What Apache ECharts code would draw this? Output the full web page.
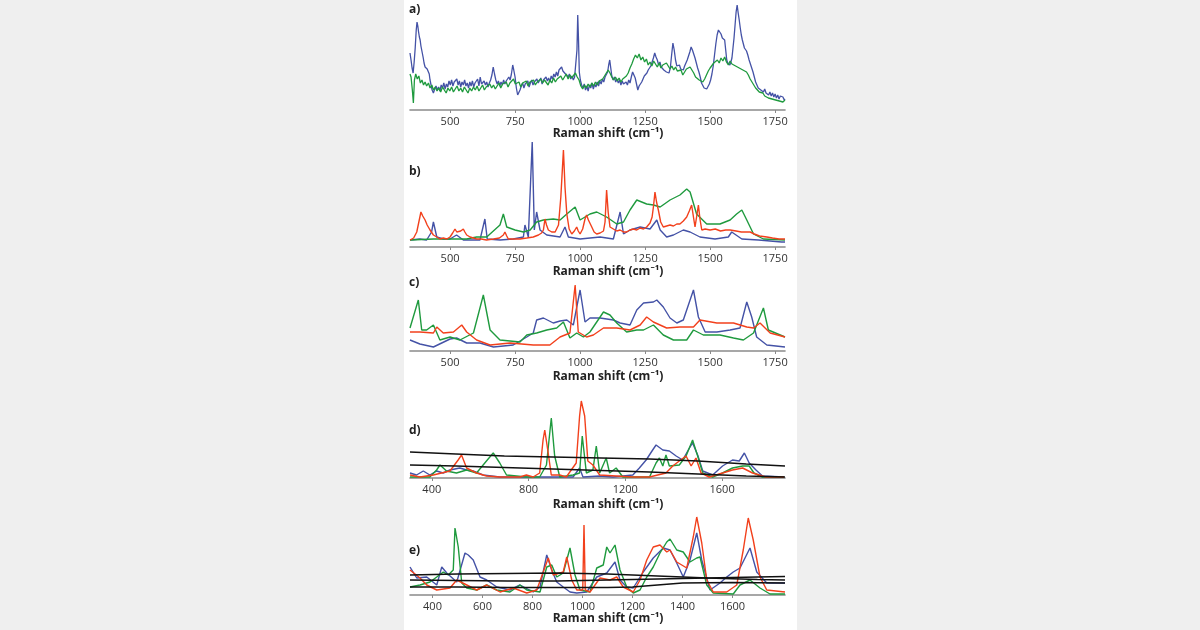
<!DOCTYPE html>
<html>
<head>
<meta charset="utf-8">
<script src="https://cdn.jsdelivr.net/npm/echarts@6/dist/echarts.min.js"></script>
<style>
html,body{margin:0;padding:0;background:#efefef;}
#c{width:1200px;height:630px;}
</style>
</head>
<body>
<div id="c"></div>
<script>
// ---------- Data (x: Raman shift in cm-1, y: intensity a.u.) ----------
const panelLabels = ['a)', 'b)', 'c)', 'd)', 'e)'];
const ticksABC = [500, 750, 1000, 1250, 1500, 1750];
const ticksD = [400, 800, 1200, 1600];
const ticksE = [400, 600, 800, 1000, 1200, 1400, 1600];
const axisTitle = 'Raman shift (cm\u207B\u00B9)';

// Panel a
const aBlue = [[346,57],[350,50],[354,42],[358,37],[362,48],[366,62],[370,80],[373,88],[376,84],[379,78],[382,73],[385,70],[388,64],[391,60],[394,56],[397,52],[400,47],[404,43],[408,45],[412,41],[417,40],[420,36],[423,30],[427,25],[431,20],[436,17],[441,21],[446,24],[451,20],[456,23],[461,19],[466,25],[471,22],[476,27],[481,21],[486,26],[491,23],[496,29],[501,25],[506,30],[511,24],[516,28],[521,26],[526,31],[531,25],[536,29],[541,23],[546,28],[551,25],[556,30],[561,24],[566,27],[571,22],[576,28],[581,24],[586,29],[591,23],[596,27],[601,25],[606,31],[611,24],[616,33],[621,26],[626,24],[631,29],[636,25],[641,28],[646,23],[651,27],[656,30],[661,35],[666,43],[671,36],[676,30],[681,26],[686,29],[691,24],[696,28],[701,25],[706,30],[711,26],[716,29],[721,27],[726,33],[731,30],[736,36],[741,45],[745,40],[750,33],[755,22],[760,15],[764,13],[769,20],[774,24],[779,27],[784,22],[789,26],[794,24],[799,29],[804,23],[809,27],[814,30],[819,25],[824,28],[829,26],[834,31],[839,27],[844,29],[849,32],[854,26],[859,30],[864,28],[869,33],[874,29],[879,32],[884,28],[889,34],[894,31],[899,36],[904,33],[909,38],[914,34],[919,40],[924,38],[929,43],[934,39],[939,41],[944,36],[949,38],[954,33],[959,36],[964,31],[969,34],[974,30],[979,33],[984,35],[988,60],[991,95],[994,70],[997,38],[1001,30],[1006,25],[1011,22],[1016,26],[1021,20],[1026,24],[1031,19],[1036,25],[1041,22],[1046,27],[1051,21],[1056,26],[1061,23],[1066,28],[1071,24],[1076,29],[1081,26],[1086,31],[1091,28],[1096,33],[1101,31],[1106,38],[1110,45],[1114,50],[1118,42],[1122,34],[1127,30],[1132,33],[1137,28],[1142,31],[1147,27],[1152,30],[1157,25],[1162,29],[1167,26],[1172,24],[1177,28],[1182,25],[1187,30],[1192,27],[1197,33],[1202,38],[1207,40],[1212,32],[1217,26],[1222,20],[1227,24],[1232,22],[1237,28],[1242,30],[1247,34],[1252,32],[1257,37],[1262,40],[1267,38],[1272,44],[1277,48],[1282,52],[1287,57],[1292,53],[1297,50],[1302,45],[1307,48],[1312,43],[1317,45],[1322,40],[1327,42],[1332,38],[1337,40],[1342,37],[1347,42],[1352,55],[1357,67],[1362,60],[1367,50],[1372,44],[1377,42],[1382,45],[1387,41],[1392,43],[1397,40],[1402,44],[1407,47],[1412,50],[1417,54],[1422,58],[1427,63],[1432,60],[1437,56],[1442,52],[1447,47],[1452,42],[1457,38],[1462,33],[1467,27],[1472,25],[1477,22],[1482,24],[1487,21],[1492,23],[1497,26],[1502,30],[1507,36],[1512,44],[1517,55],[1522,66],[1527,75],[1532,80],[1537,82],[1542,76],[1547,72],[1551,74],[1556,70],[1560,60],[1564,50],[1568,47],[1572,49],[1576,45],[1580,48],[1584,52],[1588,62],[1592,72],[1596,85],[1600,98],[1604,105],[1608,97],[1612,90],[1616,82],[1620,75],[1624,70],[1628,66],[1632,62],[1636,64],[1640,59],[1645,55],[1650,50],[1655,46],[1660,42],[1665,38],[1670,33],[1675,28],[1680,25],[1685,22],[1690,24],[1695,20],[1700,22],[1705,18],[1710,21],[1715,17],[1720,19],[1725,15],[1730,18],[1735,14],[1740,17],[1745,13],[1750,16],[1755,12],[1760,15],[1765,11],[1770,14],[1775,12],[1780,13],[1785,10],[1788,11]];
const aGreen = [[346,36],[350,33],[355,20],[359,7],[363,30],[368,36],[374,31],[380,34],[386,27],[392,30],[398,25],[404,28],[410,24],[417,27],[423,22],[430,25],[436,20],[443,23],[450,19],[457,22],[464,18],[471,23],[478,20],[485,17],[492,22],[499,19],[506,23],[513,18],[520,21],[527,24],[534,19],[541,22],[548,18],[555,23],[562,20],[569,17],[576,22],[583,19],[590,23],[597,20],[604,24],[611,19],[618,22],[625,25],[632,20],[639,23],[646,21],[653,26],[660,22],[667,25],[674,21],[681,24],[688,27],[695,22],[702,26],[709,24],[716,28],[723,23],[730,27],[737,25],[744,31],[751,26],[758,24],[765,28],[772,23],[779,27],[786,25],[793,29],[800,24],[807,28],[814,26],[821,30],[828,25],[835,28],[842,26],[849,31],[856,27],[863,30],[870,28],[877,25],[884,30],[891,27],[898,32],[905,28],[912,31],[919,29],[926,34],[933,30],[940,33],[947,36],[954,31],[961,35],[968,32],[975,34],[982,37],[989,33],[996,30],[1003,24],[1010,21],[1017,25],[1024,22],[1031,26],[1038,23],[1045,27],[1052,24],[1059,28],[1066,25],[1073,29],[1080,27],[1087,31],[1094,34],[1101,36],[1108,40],[1115,37],[1122,33],[1129,30],[1136,33],[1143,29],[1150,32],[1157,28],[1164,31],[1171,29],[1178,34],[1185,37],[1192,42],[1199,46],[1206,51],[1213,55],[1220,52],[1227,56],[1234,50],[1241,53],[1248,48],[1255,51],[1262,45],[1269,48],[1276,44],[1283,49],[1290,46],[1297,43],[1304,47],[1311,42],[1318,45],[1325,43],[1332,47],[1339,44],[1346,41],[1353,44],[1360,40],[1367,43],[1374,39],[1381,37],[1388,40],[1395,35],[1402,38],[1409,41],[1416,39],[1423,43],[1430,40],[1437,37],[1444,33],[1451,35],[1458,30],[1465,32],[1472,28],[1479,31],[1486,35],[1493,39],[1500,42],[1507,44],[1514,47],[1521,45],[1528,50],[1535,47],[1542,52],[1549,49],[1556,53],[1563,48],[1570,45],[1577,49],[1584,46],[1591,48],[1598,44],[1605,46],[1612,42],[1619,44],[1626,40],[1633,42],[1640,38],[1647,35],[1654,31],[1661,28],[1668,25],[1675,22],[1682,20],[1689,18],[1696,16],[1703,17],[1710,14],[1717,15],[1724,12],[1731,14],[1738,11],[1745,13],[1752,10],[1759,12],[1766,9],[1773,11],[1780,8],[1788,10]];

// Panel b
const bBlue = [[346,7],[384,8],[410,7],[429,15],[436,25],[449,10],[474,8],[500,8],[525,12],[551,7],[615,7],[634,28],[643,8],[692,7],[743,8],[782,10],[788,22],[801,10],[816,105],[824,17],[833,35],[846,17],[872,12],[923,10],[942,20],[955,10],[1000,8],[1077,10],[1128,8],[1154,35],[1167,13],[1192,17],[1231,20],[1269,18],[1295,27],[1308,17],[1333,10],[1359,12],[1397,17],[1423,15],[1461,10],[1519,8],[1570,10],[1583,15],[1622,8],[1686,7],[1775,5],[1788,5]];
const bGreen = [[346,7],[436,8],[564,8],[602,10],[641,10],[692,22],[705,33],[718,20],[750,17],[782,15],[808,17],[833,25],[859,27],[897,28],[923,27],[949,33],[981,40],[1000,27],[1038,33],[1064,35],[1102,30],[1141,23],[1167,25],[1192,37],[1218,47],[1256,43],[1282,42],[1308,40],[1346,47],[1384,52],[1410,58],[1423,55],[1448,33],[1487,23],[1538,23],[1577,27],[1602,33],[1622,37],[1641,27],[1667,13],[1705,8],[1788,7]];
const bRed = [[346,7],[360,9],[372,15],[380,25],[388,35],[395,31],[404,27],[412,22],[423,17],[436,12],[449,10],[461,8],[474,9],[487,8],[500,10],[510,14],[519,18],[526,15],[532,13],[541,16],[551,18],[557,15],[564,12],[577,10],[590,9],[602,8],[620,8],[640,7],[667,8],[690,9],[705,12],[711,15],[718,11],[724,8],[745,8],[769,8],[795,9],[820,10],[840,12],[852,14],[859,17],[865,28],[871,22],[878,17],[891,15],[904,15],[917,22],[926,50],[936,97],[942,60],[949,33],[958,18],[968,13],[978,16],[987,20],[993,16],[1000,13],[1010,18],[1019,28],[1025,32],[1032,27],[1045,20],[1054,15],[1064,13],[1077,14],[1090,16],[1096,25],[1102,57],[1108,35],[1115,20],[1128,18],[1141,16],[1154,17],[1167,15],[1179,15],[1192,17],[1205,18],[1218,17],[1231,19],[1244,18],[1256,20],[1269,24],[1277,30],[1282,40],[1288,55],[1294,45],[1301,37],[1310,25],[1320,20],[1333,21],[1346,22],[1359,21],[1372,23],[1384,23],[1397,26],[1410,30],[1420,36],[1429,42],[1436,30],[1442,20],[1448,30],[1455,42],[1461,28],[1468,17],[1481,18],[1500,17],[1520,18],[1540,16],[1560,17],[1577,17],[1600,16],[1620,15],[1640,15],[1654,15],[1670,13],[1690,11],[1718,10],[1740,9],[1765,8],[1788,8]];

// Panel c
const cBlue = [[346,11],[384,7],[436,4],[500,12],[525,13],[564,8],[615,8],[667,4],[743,6],[795,14],[820,18],[833,31],[859,33],[897,28],[923,30],[949,31],[974,26],[1000,61],[1019,29],[1038,33],[1077,33],[1128,31],[1154,28],[1192,26],[1218,41],[1244,48],[1282,49],[1295,51],[1320,44],[1346,33],[1372,28],[1397,31],[1436,61],[1455,34],[1481,19],[1526,19],[1577,21],[1615,23],[1641,49],[1660,34],[1679,14],[1718,6],[1788,4]];
const cGreen = [[346,23],[378,51],[391,21],[410,21],[436,26],[461,11],[500,14],[538,11],[590,18],[628,56],[654,21],[692,11],[769,9],[795,16],[833,18],[872,21],[910,23],[936,29],[961,13],[987,18],[1013,14],[1038,19],[1077,34],[1090,39],[1115,36],[1141,28],[1179,19],[1218,21],[1244,21],[1282,26],[1320,16],[1359,11],[1410,11],[1436,21],[1474,16],[1538,16],[1590,13],[1628,11],[1667,18],[1705,43],[1724,21],[1788,14]];
const cRed = [[346,19],[384,19],[436,18],[449,24],[474,18],[513,19],[545,26],[564,19],[602,11],[654,6],[731,8],[820,6],[884,6],[923,14],[961,18],[981,66],[993,19],[1025,14],[1051,16],[1090,23],[1141,23],[1192,21],[1231,26],[1256,34],[1282,29],[1333,23],[1384,24],[1436,24],[1461,31],[1526,28],[1590,28],[1641,24],[1667,23],[1692,28],[1731,18],[1788,14]];

// Panel d
const dBlue = [[310,5],[337,3],[365,7],[392,3],[420,7],[447,5],[475,8],[516,10],[544,8],[571,7],[612,3],[681,1],[819,1],[984,1],[1011,10],[1025,1],[1094,2],[1149,1],[1231,3],[1258,10],[1286,18],[1313,28],[1327,33],[1355,28],[1382,27],[1410,22],[1437,18],[1465,30],[1478,35],[1499,23],[1520,7],[1561,3],[1602,12],[1643,18],[1671,17],[1692,25],[1712,15],[1740,8],[1767,2],[1856,1]];
const dGreen = [[310,1],[392,1],[420,8],[434,13],[461,7],[502,5],[544,8],[585,5],[626,17],[654,25],[681,15],[709,3],[791,1],[846,1],[874,13],[894,60],[908,22],[929,1],[984,3],[1011,5],[1022,42],[1039,5],[1066,8],[1080,32],[1094,5],[1121,20],[1135,5],[1162,10],[1190,1],[1231,1],[1300,1],[1327,15],[1341,20],[1355,12],[1368,23],[1382,12],[1423,13],[1451,22],[1478,38],[1499,22],[1520,5],[1561,1],[1602,5],[1643,10],[1685,12],[1712,12],[1732,5],[1767,1],[1856,1]];
const dRed = [[310,3],[351,1],[406,3],[475,7],[509,18],[523,23],[544,10],[585,5],[626,2],[681,1],[764,1],[791,3],[819,1],[846,5],[860,38],[867,48],[880,27],[894,3],[929,3],[956,1],[997,15],[1011,62],[1018,77],[1032,62],[1045,17],[1066,13],[1094,3],[1162,2],[1231,1],[1300,1],[1368,5],[1396,12],[1423,17],[1451,22],[1472,12],[1492,20],[1513,5],[1547,1],[1602,5],[1643,8],[1685,10],[1726,5],[1781,1],[1856,1]];
const dBlack1 = [[310,26],[500,24],[700,22],[900,21],[1100,20],[1300,19],[1500,17],[1700,14],[1860,12]];
const dBlack2 = [[310,13],[500,12],[700,10.5],[900,9],[1100,7.5],[1300,6],[1500,4],[1700,2],[1860,1]];

// Panel e
const eBlue = [[310,28],[337,17],[377,18],[417,10],[437,28],[457,22],[497,13],[530,42],[543,40],[563,35],[590,18],[617,15],[657,8],[710,5],[750,10],[803,3],[830,8],[857,40],[877,25],[897,13],[923,8],[950,3],[977,2],[1017,3],[1057,18],[1097,22],[1130,33],[1150,15],[1177,8],[1203,7],[1243,23],[1283,37],[1323,47],[1350,45],[1377,32],[1403,18],[1430,35],[1457,62],[1477,35],[1510,5],[1550,12],[1577,18],[1603,23],[1630,27],[1670,47],[1697,23],[1737,12],[1810,12]];
const eGreen = [[310,8],[350,10],[390,13],[417,18],[443,23],[463,20],[483,25],[490,67],[503,48],[517,12],[537,7],[577,5],[617,10],[657,5],[710,3],[750,10],[777,5],[830,3],[857,28],[877,30],[897,18],[923,22],[950,47],[970,20],[990,5],[1030,3],[1057,27],[1083,30],[1097,48],[1110,42],[1130,50],[1150,25],[1177,8],[1203,2],[1230,5],[1257,18],[1283,28],[1310,42],[1337,53],[1350,56],[1377,45],[1403,43],[1430,33],[1457,37],[1470,38],[1497,10],[1523,2],[1603,1],[1630,10],[1670,15],[1710,7],[1750,1],[1810,1]];
const eRed = [[310,25],[350,17],[377,10],[417,5],[470,7],[497,15],[537,10],[577,5],[617,10],[670,3],[723,7],[777,2],[817,5],[843,23],[863,37],[883,20],[923,23],[937,38],[957,15],[977,5],[1001,5],[1006,70],[1011,5],[1030,3],[1070,17],[1110,15],[1137,18],[1163,8],[1203,3],[1230,15],[1257,35],[1283,48],[1310,50],[1337,43],[1350,45],[1377,33],[1417,27],[1443,58],[1457,78],[1477,52],[1497,15],[1523,3],[1577,3],[1617,10],[1643,45],[1663,77],[1683,55],[1710,18],[1737,5],[1810,3]];
const eBlack1 = [[310,20],[500,21],[700,21.5],[900,22],[1100,21],[1300,19],[1500,17],[1700,15.5],[1810,15]];
const eBlack2 = [[310,15],[500,14.5],[700,14],[900,14],[1100,15],[1300,16],[1500,17],[1700,18],[1810,18.5]];
const eBlack3 = [[310,8],[500,8],[700,7.5],[900,7.5],[1100,7.5],[1200,8],[1300,10],[1400,12],[1600,12.5],[1810,12]];

// ---------- Layout / style ----------
const COL = {blue:'#4452a6', green:'#1f9a3e', red:'#f2401c', black:'#111111'};
const FONT = '"Open Sans", "Noto Sans", sans-serif';
const panels = [
  {axisY:110, h:108, xmin:346, xmax:1788, ticks:ticksABC, labY:12,  titleY:134},
  {axisY:247, h:110, xmin:346, xmax:1788, ticks:ticksABC, labY:174, titleY:272},
  {axisY:351, h:80,  xmin:346, xmax:1788, ticks:ticksABC, labY:285, titleY:377},
  {axisY:478, h:80,  xmin:310, xmax:1860, ticks:ticksD,   labY:433, titleY:505},
  {axisY:595, h:85,  xmin:310, xmax:1810, ticks:ticksE,   labY:553, titleY:619}
];
const LEFT = 410, RIGHT = 1200 - 785;

const grids = [], xAxes = [], yAxes = [], graphics = [];
graphics.push({type:'rect', shape:{x:404, y:0, width:393, height:630}, style:{fill:'#ffffff'}, z:-10});
panels.forEach((p, i) => {
  grids.push({left:LEFT, right:RIGHT, top:p.axisY - p.h, height:p.h, containLabel:false});
  xAxes.push({
    type:'value', gridIndex:i, min:p.xmin, max:p.xmax,
    axisLine:{show:true, onZero:false, lineStyle:{color:'#8a8a8a', width:1.6}},
    axisTick:{show:true, inside:false, length:3, customValues:p.ticks, lineStyle:{color:'#8a8a8a'}},
    axisLabel:{show:true, customValues:p.ticks, margin:6, fontFamily:FONT, fontSize:11, color:'#333',
               formatter:(v) => String(v)},
    splitLine:{show:false}
  });
  yAxes.push({type:'value', gridIndex:i, min:0, max:p.h, show:false});
  graphics.push({type:'text', left:409, top:p.labY - 8, style:{text:panelLabels[i], font:'bold 12px ' + FONT, fill:'#222'}});
  graphics.push({type:'text', x:608, y:p.titleY, style:{text:axisTitle, font:'bold 12px ' + FONT, fill:'#222', align:'center', verticalAlign:'middle'}});
});

function line(data, color, idx, w) {
  return {type:'line', data:data, xAxisIndex:idx, yAxisIndex:idx, showSymbol:false, symbol:'none',
          lineStyle:{color:color, width:w || 1.4}, itemStyle:{color:color}, silent:true};
}
const series = [
  line(aBlue, COL.blue, 0, 1.3), line(aGreen, COL.green, 0, 1.3),
  line(bBlue, COL.blue, 1), line(bGreen, COL.green, 1), line(bRed, COL.red, 1),
  line(cBlue, COL.blue, 2), line(cGreen, COL.green, 2), line(cRed, COL.red, 2),
  line(dBlue, COL.blue, 3), line(dGreen, COL.green, 3), line(dRed, COL.red, 3),
  line(dBlack1, COL.black, 3, 1.3), line(dBlack2, COL.black, 3, 1.3),
  line(eBlue, COL.blue, 4), line(eGreen, COL.green, 4), line(eRed, COL.red, 4),
  line(eBlack1, COL.black, 4, 1.3), line(eBlack2, COL.black, 4, 1.3), line(eBlack3, COL.black, 4, 1.3)
];

const chart = echarts.init(document.getElementById('c'), null, {renderer:'canvas'});
chart.setOption({
  animation:false,
  backgroundColor:'#efefef',
  grid:grids, xAxis:xAxes, yAxis:yAxes, series:series, graphic:graphics
});
</script>
</body>
</html>
